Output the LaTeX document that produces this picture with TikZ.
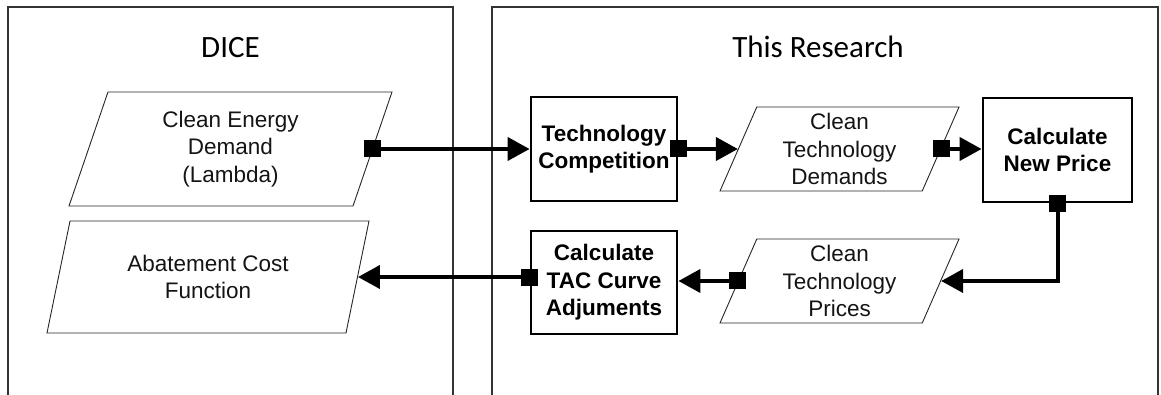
\documentclass[tikz,border=0pt]{standalone}
\usepackage{fontspec}
\setmainfont{Liberation Sans}
\newfontfamily\titlefont{Carlito}
\usetikzlibrary{arrows.meta,shapes.geometric}
\begin{document}
\begin{tikzpicture}[x=1pt, y=-1pt,
    every node/.style={font=\fontsize{22.5}{27.5}\selectfont, align=center, inner sep=1pt},
    title/.style={font=\titlefont\fontsize{31}{36}\selectfont, anchor=base},
    panel/.style={line width=1.2pt, draw=black!80},
    dataio/.style={draw=black!85, line width=0.9pt, trapezium, trapezium left angle=63.43, trapezium right angle=116.57, trapezium stretches body, text=black!92},
    process/.style={draw, line width=2.8pt, font=\bfseries\fontsize{22.5}{27.5}\selectfont},
    flow/.style={line width=4pt, {Square[length=17pt,width=17pt]}-{Triangle[length=22pt,width=23pt]}, shorten <=-8.5pt}]
  \useasboundingbox (0,0) rectangle (1161,395);
  \clip (0,0) rectangle (1161,395);
  % panels
  \draw[panel] (8,400) |- (453,7) -- (453,400);
  \draw[panel] (492,400) |- (1158,7) -- (1158,400);
  \node[title] (dice) at (230.5,58) {DICE};
  \node[title] (research) at (818,58) {This Research};
  % data
  \node[dataio, minimum width=323pt, minimum height=114pt] (cedemand) at (230.5,149) {Clean Energy\\Demand\\(Lambda)};
  \node[dataio, minimum width=322pt, minimum height=112pt] (abatement) at (208,277) {Abatement Cost\\Function};
  \node[dataio, minimum width=239pt, minimum height=84pt] (demands) at (839.5,149) {Clean\\Technology\\Demands};
  \node[dataio, minimum width=239pt, minimum height=84pt] (prices) at (839.5,281) {Clean\\Technology\\Prices};
  % processes
  \node[process, minimum width=146pt, minimum height=104pt] (techcomp) at (604,149) {Technology\\Competition};
  \node[process, minimum width=149pt, minimum height=104pt] (newprice) at (1057.5,150) {Calculate\\New Price};
  \node[process, minimum width=146pt, minimum height=103pt] (tac) at (604,282.5) {Calculate\\TAC Curve\\Adjuments};
  % flows
  \foreach \a/\b in {cedemand/techcomp, techcomp/demands, demands/newprice}
    \draw[flow] (\a.0) -- (\a.0 -| \b.180);
  \draw[flow] (newprice.south) |- (prices.0);
  \draw[flow] (prices.180) -- (prices.180 -| tac.east);
  \draw[flow] (abatement.0 -| tac.west) -- (abatement.0);
\end{tikzpicture}
\end{document}
